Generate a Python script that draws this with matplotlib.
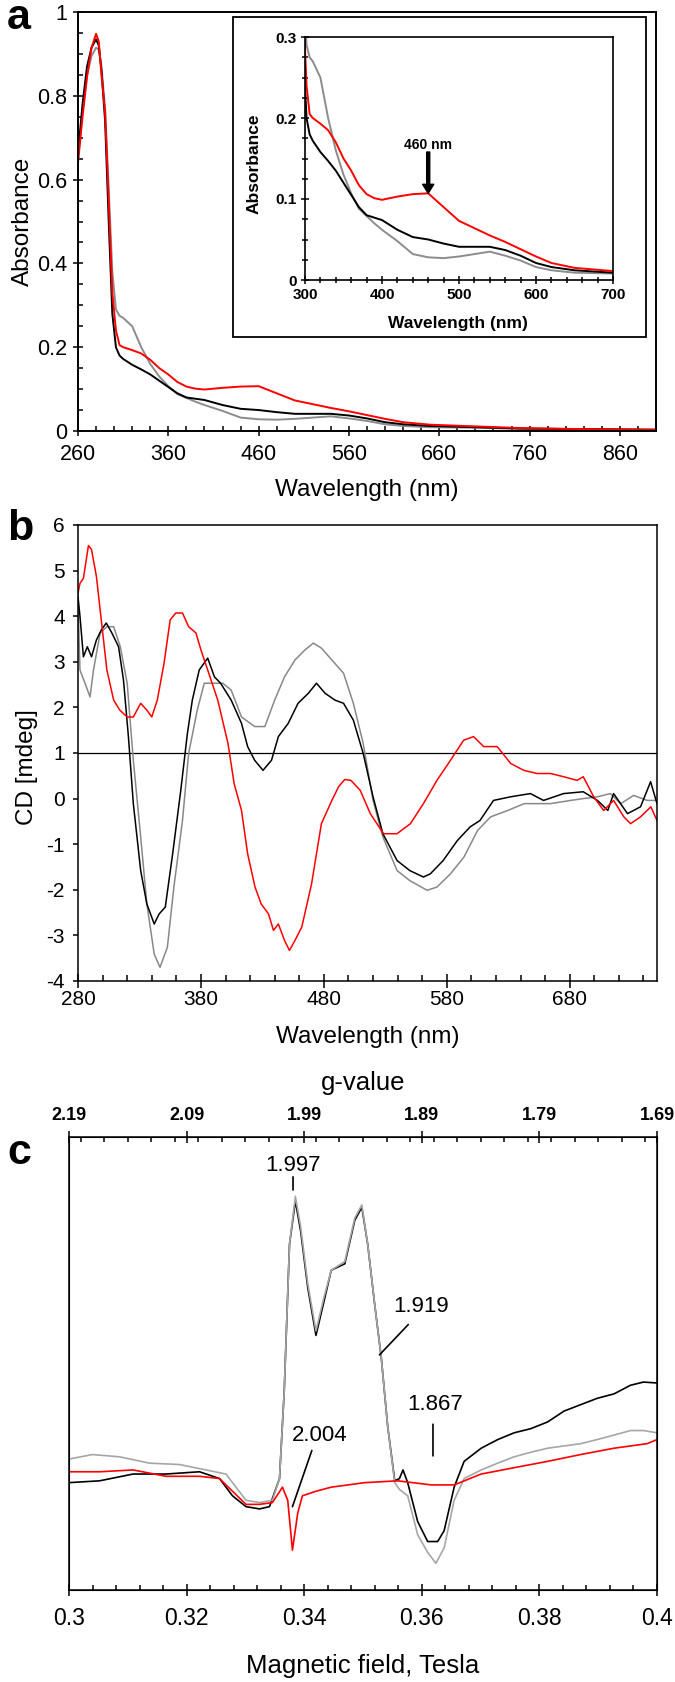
import numpy as np
import matplotlib
matplotlib.use('Agg')
import matplotlib.pyplot as plt
from matplotlib.patches import Rectangle
from matplotlib.ticker import MultipleLocator, FuncFormatter

plt.rcParams['font.family'] = ['Liberation Sans', 'DejaVu Sans']
plt.rcParams['axes.unicode_minus'] = False

# ---- panel a: UV-vis absorbance ----
abs_nm = [260, 265, 270, 275, 280, 283, 286, 290, 294, 298,
          302, 306, 310, 320, 330, 340, 350, 360, 370, 380,
          390, 400, 420, 440, 460, 480, 500, 520, 540, 560,
          580, 600, 620, 650, 700, 750, 800, 850, 900]
abs_red = [0.64, 0.75, 0.845, 0.915, 0.948, 0.93, 0.85, 0.76, 0.55, 0.33,
           0.24, 0.205, 0.2, 0.193, 0.185, 0.17, 0.15, 0.135, 0.117, 0.106,
           0.101, 0.099, 0.103, 0.106, 0.107, 0.09, 0.073, 0.064, 0.055, 0.047,
           0.038, 0.029, 0.021, 0.015, 0.011, 0.007, 0.005, 0.004, 0.003]
abs_black = [0.66, 0.78, 0.87, 0.915, 0.935, 0.92, 0.86, 0.74, 0.5, 0.28,
             0.2, 0.18, 0.172, 0.158, 0.147, 0.135, 0.12, 0.105, 0.09, 0.08,
             0.077, 0.074, 0.062, 0.053, 0.05, 0.045, 0.041, 0.041, 0.041, 0.037,
             0.03, 0.021, 0.016, 0.012, 0.009, 0.006, 0.005, 0.004, 0.003]
abs_gray = [0.65, 0.76, 0.85, 0.895, 0.915, 0.91, 0.87, 0.77, 0.58, 0.38,
            0.29, 0.275, 0.27, 0.25, 0.2, 0.16, 0.13, 0.107, 0.088, 0.079,
            0.07, 0.062, 0.048, 0.032, 0.028, 0.027, 0.029, 0.032, 0.035, 0.03,
            0.024, 0.016, 0.012, 0.009, 0.008, 0.005, 0.004, 0.003, 0.003]

# ---- panel b: CD spectra ----
cd_red_nm = [280, 281.6, 284.4, 288.5, 291, 295, 298, 303.5, 309, 314,
             320, 325, 331, 336, 340, 344.5, 350, 355, 359.5, 365,
             370, 376, 380, 385.5, 393.7, 402, 407, 413, 418, 424,
             429, 435, 439, 443, 448, 452, 456.5, 462, 470, 478,
             486.5, 492, 497, 502, 509.6, 517.8, 528.5, 539.5, 550.4, 561,
             572, 583, 593.7, 601.8, 610, 621, 632, 642.6, 653.5, 664.4,
             675, 686, 691, 699.5, 707.6, 715.7, 724, 729.5, 737.6, 746, 751]
cd_red = [4.5, 4.72, 4.83, 5.55, 5.46, 4.87, 4.14, 2.82, 2.16, 1.94,
          1.79, 1.79, 2.09, 1.94, 1.79, 2.16, 2.97, 3.92, 4.07, 4.07,
          3.77, 3.63, 3.26, 2.82, 2.16, 1.21, 0.33, -0.26, -1.21, -1.94,
          -2.31, -2.53, -2.89, -2.75, -3.11, -3.33, -3.11, -2.82, -1.87, -0.55,
          -0.04, 0.26, 0.42, 0.40, 0.18, -0.33, -0.77, -0.77, -0.55, -0.11,
          0.40, 0.84, 1.28, 1.36, 1.14, 1.14, 0.77, 0.62, 0.55, 0.55,
          0.48, 0.40, 0.48, 0.04, -0.26, -0.04, -0.40, -0.55, -0.40, -0.18, -0.48]
cd_black_nm = [280, 281.6, 284.4, 287.6, 291, 295, 299, 303, 307.6, 313,
               317, 321, 325, 331, 336, 342, 346, 351, 357, 363.6,
               369, 373, 378.6, 385.5, 391, 396, 404.6, 413, 418, 423.7,
               430.5, 437.4, 443, 451, 459, 467.4, 474, 481, 489, 496,
               504, 512, 520, 528, 539.6, 550, 561, 566.6, 577, 588.6,
               599, 607, 618, 632, 648, 658.7, 675, 691, 702.6, 711,
               715.7, 727, 737.6, 745.8, 751]
cd_black = [4.43, 4.0, 3.11, 3.33, 3.11, 3.48, 3.70, 3.85, 3.63, 3.33,
            2.60, 1.36, -0.11, -1.58, -2.31, -2.75, -2.53, -2.38, -1.21, 0.18,
            1.43, 2.16, 2.82, 3.08, 2.67, 2.53, 2.16, 1.65, 1.14, 0.84,
            0.62, 0.84, 1.36, 1.65, 2.09, 2.31, 2.53, 2.31, 2.16, 2.09,
            1.72, 0.99, 0.04, -0.77, -1.36, -1.58, -1.72, -1.65, -1.36, -0.92,
            -0.62, -0.48, -0.04, 0.04, 0.11, -0.04, 0.11, 0.15, -0.04, -0.26,
            0.11, -0.33, -0.18, 0.37, -0.11]
cd_gray_nm = [280, 281.6, 285.7, 289.8, 292.6, 298, 303.5, 309, 314.4, 320,
              325, 331, 336, 342, 346.7, 352.7, 358, 365, 370, 377,
              382.7, 391, 397.8, 404.6, 413, 423.7, 432, 440, 448, 456.5,
              464.6, 471.5, 478, 486.5, 496, 504, 512, 520, 528, 539.6,
              550, 564, 572, 583, 594, 605, 615.7, 629.6, 643, 653.6,
              664.4, 680.7, 691, 702.6, 713, 721.5, 732, 743, 751]
cd_gray = [4.29, 2.82, 2.53, 2.23, 2.82, 3.63, 3.77, 3.77, 3.33, 2.53,
           0.84, -0.84, -2.31, -3.41, -3.70, -3.26, -1.94, -0.48, 0.99, 1.94,
           2.53, 2.53, 2.53, 2.38, 1.79, 1.58, 1.58, 2.16, 2.67, 3.04,
           3.26, 3.41, 3.30, 3.04, 2.75, 2.09, 1.21, -0.04, -0.84, -1.58,
           -1.80, -2.01, -1.94, -1.65, -1.28, -0.70, -0.40, -0.26, -0.11, -0.11,
           -0.11, -0.04, 0.0, 0.04, 0.11, -0.11, 0.07, -0.04, -0.04]

# ---- panel c: EPR (arbitrary units, 0..1 of the frame) ----
epr_black_B = [0.300, 0.3052, 0.3109, 0.3165, 0.3222, 0.3256, 0.3278, 0.3301, 0.3324, 0.3341,
               0.3358, 0.3366, 0.3375, 0.3385, 0.3394, 0.3406, 0.342, 0.3434, 0.3446, 0.3469,
               0.3486, 0.3498, 0.3508, 0.352, 0.3531, 0.3542, 0.3554, 0.3562, 0.3568, 0.3576,
               0.3593, 0.361, 0.3627, 0.3638, 0.3655, 0.3672, 0.3701, 0.3729, 0.3757, 0.3785,
               0.3814, 0.3842, 0.387, 0.3898, 0.3927, 0.3955, 0.3977, 0.400]
epr_black = [0.237, 0.241, 0.256, 0.256, 0.261, 0.246, 0.208, 0.184, 0.179, 0.184,
             0.246, 0.438, 0.763, 0.859, 0.792, 0.668, 0.562, 0.639, 0.706, 0.720,
             0.816, 0.845, 0.763, 0.629, 0.514, 0.361, 0.241, 0.246, 0.265, 0.237,
             0.151, 0.107, 0.107, 0.131, 0.227, 0.284, 0.313, 0.332, 0.347, 0.356,
             0.371, 0.395, 0.409, 0.423, 0.433, 0.452, 0.459, 0.457]
epr_gray_B = [0.300, 0.304, 0.3086, 0.3137, 0.3188, 0.3233, 0.3267, 0.3284, 0.3301, 0.3324,
              0.3346, 0.3358, 0.3366, 0.3375, 0.3385, 0.3394, 0.3406, 0.342, 0.3434, 0.3446,
              0.3469, 0.3486, 0.3498, 0.3508, 0.352, 0.3531, 0.3542, 0.3554, 0.3562, 0.3576,
              0.3593, 0.361, 0.3624, 0.3638, 0.3655, 0.3672, 0.3701, 0.3729, 0.3757, 0.3785,
              0.3814, 0.3842, 0.387, 0.3898, 0.3927, 0.3955, 0.3977, 0.400]
epr_gray = [0.289, 0.299, 0.294, 0.280, 0.277, 0.265, 0.256, 0.227, 0.198, 0.193,
            0.198, 0.246, 0.438, 0.763, 0.869, 0.802, 0.677, 0.572, 0.648, 0.706,
            0.725, 0.821, 0.850, 0.763, 0.629, 0.514, 0.361, 0.237, 0.222, 0.208,
            0.122, 0.083, 0.059, 0.093, 0.198, 0.246, 0.265, 0.280, 0.294, 0.304,
            0.313, 0.318, 0.323, 0.332, 0.342, 0.352, 0.352, 0.347]
epr_red_B = [0.300, 0.3052, 0.3109, 0.3165, 0.3222, 0.3256, 0.3278, 0.3301, 0.3324, 0.3346,
             0.3363, 0.3372, 0.338, 0.3389, 0.3397, 0.342, 0.3446, 0.3503, 0.3559, 0.3616,
             0.3655, 0.3701, 0.3757, 0.3814, 0.387, 0.3927, 0.3983, 0.400]
epr_red = [0.261, 0.261, 0.265, 0.251, 0.251, 0.246, 0.218, 0.189, 0.189, 0.193,
           0.227, 0.198, 0.088, 0.170, 0.208, 0.218, 0.227, 0.237, 0.241, 0.232,
           0.232, 0.256, 0.270, 0.284, 0.299, 0.313, 0.323, 0.332]

g_ticks = [2.19, 2.09, 1.99, 1.89, 1.79, 1.69]

# g-value labels: text, text position, leader line start, leader line end
g_labels = [('1.997', (0.3381, 0.938), (0.3381, 0.912), (0.3381, 0.883)),
            ('2.004', (0.3427, 0.342), (0.3413, 0.308), (0.3380, 0.184)),
            ('1.919', (0.3599, 0.625), (0.3577, 0.586), (0.3528, 0.519)),
            ('1.867', (0.3622, 0.409), (0.3619, 0.366), (0.3619, 0.296))]

W, H = 675, 1682
fig = plt.figure(figsize=(W / 100, H / 100), dpi=100)


def box(l, t, r, b):
    return [l / W, 1 - b / H, (r - l) / W, (b - t) / H]


fmt_g = FuncFormatter(lambda v, p: '%g' % round(v, 4))

# ================= panel a =================
ax_a = fig.add_axes(box(78, 12, 656, 431))
ax_a.plot(abs_nm, abs_gray, color='#8c8c8c', lw=1.4)
ax_a.plot(abs_nm, abs_black, color='black', lw=1.4)
ax_a.plot(abs_nm, abs_red, color='red', lw=1.4)
ax_a.set_xlim(260, 900)
ax_a.set_ylim(0, 1)
ax_a.xaxis.set_major_locator(MultipleLocator(100))
ax_a.xaxis.set_minor_locator(MultipleLocator(20))
ax_a.yaxis.set_major_locator(MultipleLocator(0.2))
ax_a.yaxis.set_minor_locator(MultipleLocator(0.05))
ax_a.yaxis.set_major_formatter(fmt_g)
ax_a.set_xticks([260, 360, 460, 560, 660, 760, 860])
ax_a.tick_params(which='major', direction='inout', length=7, width=1.1, labelsize=15.5)
ax_a.tick_params(axis='x', which='major', pad=6)
ax_a.tick_params(axis='y', which='major', pad=4)
ax_a.tick_params(which='minor', direction='in', length=3.5, width=1.1)
for s in ax_a.spines.values():
    s.set_linewidth(1.4)
ax_a.set_xlabel('Wavelength (nm)', fontsize=17.5, va='center')
ax_a.xaxis.set_label_coords(0.5, -0.141)
ax_a.set_ylabel('Absorbance', fontsize=17.5, va='center')
ax_a.yaxis.set_label_coords(-0.095, 0.5)

# inset frame
frame = Rectangle((233 / W, 1 - 337 / H), (646 - 233) / W, (337 - 17) / H,
                  transform=fig.transFigure, facecolor='white', edgecolor='black',
                  lw=1.3, zorder=2)
fig.add_artist(frame)

ax_in = fig.add_axes(box(305, 37, 613, 280), zorder=3)
ax_in.plot(abs_nm, abs_gray, color='#8c8c8c', lw=1.4)
ax_in.plot(abs_nm, abs_black, color='black', lw=1.4)
ax_in.plot(abs_nm, abs_red, color='red', lw=1.4)
ax_in.set_xlim(300, 700)
ax_in.set_ylim(0, 0.3)
ax_in.xaxis.set_major_locator(MultipleLocator(100))
ax_in.xaxis.set_minor_locator(MultipleLocator(20))
ax_in.yaxis.set_major_locator(MultipleLocator(0.1))
ax_in.yaxis.set_minor_locator(MultipleLocator(0.025))
ax_in.yaxis.set_major_formatter(fmt_g)
ax_in.tick_params(which='major', direction='inout', length=6, width=1.1, labelsize=11, pad=3)
ax_in.tick_params(which='minor', direction='inout', length=4, width=1.1)
for lab in ax_in.get_xticklabels() + ax_in.get_yticklabels():
    lab.set_fontweight('bold')
for s in ax_in.spines.values():
    s.set_linewidth(1.2)
ax_in.set_xlabel('Wavelength (nm)', fontsize=12.5, fontweight='bold', va='center')
ax_in.xaxis.set_label_coords(0.497, -0.177)
ax_in.set_ylabel('Absorbance', fontsize=12.5, fontweight='bold', va='center')
ax_in.yaxis.set_label_coords(-0.165, 0.48)
ax_in.text(460, 0.167, '460 nm', ha='center', va='center', fontsize=10, fontweight='bold')
ax_in.annotate('', xy=(460, 0.107), xytext=(460, 0.158),
               arrowprops=dict(facecolor='black', edgecolor='black', width=2.2,
                               headwidth=8, headlength=6.5, shrink=0))

fig.text(19 / W, 1 - 18 / H, 'a', fontsize=31, fontweight='bold', ha='center', va='center')

# ================= panel b =================
ax_b = fig.add_axes(box(78, 525, 657, 981))
ax_b.axhline(1, color='black', lw=0.9)
ax_b.plot(cd_gray_nm, cd_gray, color='#888888', lw=1.1)
ax_b.plot(cd_black_nm, cd_black, color='black', lw=1.1)
ax_b.plot(cd_red_nm, cd_red, color='red', lw=1.1)
ax_b.set_xlim(280, 751)
ax_b.set_ylim(-4, 6)
ax_b.set_xticks([280, 380, 480, 580, 680])
ax_b.xaxis.set_minor_locator(MultipleLocator(20))
ax_b.yaxis.set_major_locator(MultipleLocator(1))
ax_b.tick_params(axis='x', which='major', direction='inout', length=9.5, width=1.1,
                 labelsize=15, pad=2)
ax_b.tick_params(axis='x', which='minor', direction='in', length=4, width=1.1)
ax_b.tick_params(axis='y', which='major', direction='out', length=3.5, width=1.1,
                 labelsize=15, pad=6)
for s in ax_b.spines.values():
    s.set_linewidth(1.1)
ax_b.set_xlabel('Wavelength (nm)', fontsize=17.5, va='center')
ax_b.xaxis.set_label_coords(0.5, -0.123)
ax_b.set_ylabel('CD [mdeg]', fontsize=17.5, va='center')
ax_b.yaxis.set_label_coords(-0.088, 0.47)

fig.text(20 / W, 1 - 529 / H, 'b', fontsize=31, fontweight='bold', ha='center', va='center')

# ================= panel c =================
ax_c = fig.add_axes(box(69, 1137, 657, 1590))
ax_c.plot(epr_black_B, epr_black, color='black', lw=1.2)
ax_c.plot(epr_gray_B, epr_gray, color='#a6a6a6', lw=1.2)
ax_c.plot(epr_red_B, epr_red, color='red', lw=1.2)
ax_c.set_xlim(0.3, 0.4)
ax_c.set_ylim(0, 1)
ax_c.set_yticks([])
ax_c.xaxis.set_major_locator(MultipleLocator(0.02))
ax_c.xaxis.set_minor_locator(MultipleLocator(0.004))
ax_c.xaxis.set_major_formatter(fmt_g)
ax_c.tick_params(axis='x', which='major', direction='inout', length=9, width=1.1,
                 labelsize=16.5, pad=8)
ax_c.tick_params(axis='x', which='minor', direction='in', length=3.5, width=1.1)
for s in ax_c.spines.values():
    s.set_linewidth(1.1)
ax_c.set_xlabel('Magnetic field, Tesla', fontsize=18.5, va='center')
ax_c.xaxis.set_label_coords(0.5, -0.168)

for txt, pos, p0, p1 in g_labels:
    ax_c.text(pos[0], pos[1], txt, ha='center', va='center', fontsize=16)
    ax_c.annotate('', xy=p1, xytext=p0,
                  arrowprops=dict(arrowstyle='-', color='black', lw=1.2,
                                  shrinkA=0, shrinkB=0))

ax_g = ax_c.twiny()
ax_g.set_xlim(2.19, 1.69)
ax_g.set_xticks(g_ticks)
ax_g.xaxis.set_minor_locator(MultipleLocator(0.02))
ax_g.xaxis.set_major_formatter(FuncFormatter(lambda v, p: '%.2f' % v))
ax_g.tick_params(axis='x', which='major', direction='inout', length=9, width=1.1,
                 labelsize=13, pad=5)
ax_g.tick_params(axis='x', which='minor', direction='in', length=3.5, width=1.1)
for lab in ax_g.get_xticklabels():
    lab.set_fontweight('bold')
ax_g.set_xlabel('g-value', fontsize=18.5, va='center')
ax_g.xaxis.set_label_coords(0.5, 1.119)

fig.text(19 / W, 1 - 1153 / H, 'c', fontsize=31, fontweight='bold', ha='center', va='center')

fig.savefig('out.png', dpi=100)
